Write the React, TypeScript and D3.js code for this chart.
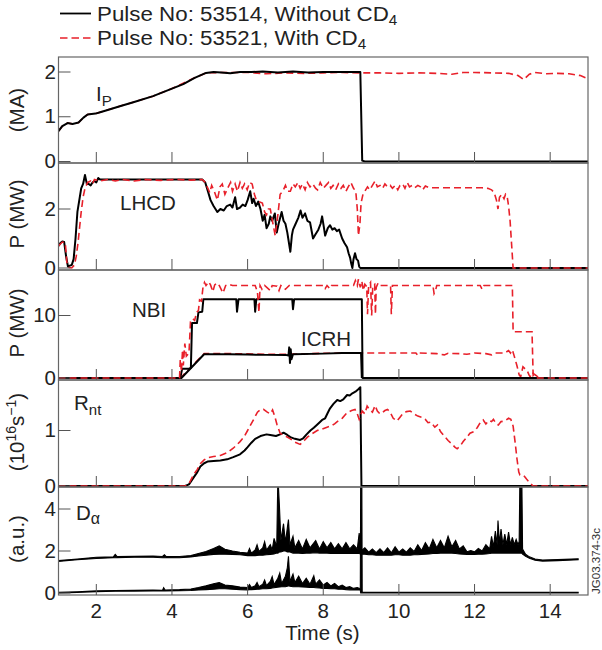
import React from 'react';
import * as d3 from 'd3';

type P = [number, number];
type B = [number, number, number];

const timeTicks = [2, 4, 6, 8, 10, 12, 14];
const legendLabels = ['Pulse No: 53514, Without CD', 'Pulse No: 53521, With CD'];

const ipBlack: P[] = [[1.0,0.68],[1.1,0.79],[1.24,0.86],[1.37,0.84],[1.53,0.87],[1.66,0.98],[1.77,1.05],[1.98,1.07],[2.1,1.1],[2.3,1.15],[2.6,1.23],[3.0,1.33],[3.5,1.46],[4.0,1.63],[4.3,1.73],[4.6,1.87],[4.9,1.98],[5.1,2.0],[5.3,1.99],[5.54,1.97],[5.8,2.0],[6.1,2.0],[6.4,2.01],[6.8,1.99],[7.2,2.01],[7.6,1.99],[8.0,2.0],[8.4,2.0],[8.98,2.0],[9.03,0.02],[9.1,0.0],[15,0.0]];
const ipRed: P[] = [[1.0,0.68],[1.1,0.79],[1.24,0.86],[1.37,0.84],[1.53,0.87],[1.66,0.98],[1.77,1.05],[1.98,1.07],[2.1,1.1],[2.6,1.23],[3.0,1.33],[3.5,1.46],[4.0,1.63],[4.6,1.87],[4.9,1.98],[5.3,1.99],[6.0,1.99],[6.5,1.96],[7.0,1.98],[7.5,1.97],[8.0,1.98],[8.5,1.99],[9.0,1.98],[9.5,1.98],[10.0,1.97],[10.5,1.98],[11.0,1.97],[11.4,1.95],[11.7,1.99],[12.0,1.99],[12.5,1.98],[12.9,1.97],[13.15,1.92],[13.3,1.83],[13.45,1.95],[13.6,1.99],[13.9,1.96],[14.2,1.97],[14.5,1.96],[14.8,1.92],[15,1.85]];

const lhBlack: P[] = [[1.0,0.75],[1.05,0.85],[1.1,0.9],[1.15,0.88],[1.2,0.4],[1.25,0.05],[1.3,0.08],[1.35,0.1],[1.4,0.3],[1.45,1.0],[1.5,1.9],[1.55,2.3],[1.6,2.7],[1.65,2.85],[1.7,3.15],[1.75,2.85],[1.8,2.85],[1.85,2.8],[1.9,2.9],[1.95,2.95],[2.0,2.9],[2.05,3.05],[2.1,3.0],[3.0,3.0],[4.0,3.0],[4.8,3.0],[4.88,2.9],[4.95,2.6],[5.02,2.3],[5.1,2.1],[5.2,1.9],[5.28,2.0],[5.37,1.95],[5.45,2.1],[5.54,2.15],[5.6,2.05],[5.67,2.4],[5.72,2.0],[5.8,2.05],[5.87,2.15],[5.94,2.1],[6.0,2.3],[6.07,2.6],[6.12,2.2],[6.16,2.35],[6.22,2.1],[6.28,2.25],[6.34,2.0],[6.4,1.6],[6.45,1.8],[6.5,1.35],[6.56,1.5],[6.6,1.75],[6.65,1.6],[6.72,1.85],[6.77,1.2],[6.82,1.5],[6.9,1.9],[6.95,1.6],[7.0,1.5],[7.05,1.2],[7.13,0.55],[7.17,1.1],[7.2,1.3],[7.27,1.5],[7.34,1.7],[7.4,1.95],[7.45,1.7],[7.52,1.85],[7.58,1.6],[7.65,1.55],[7.73,1.0],[7.8,1.15],[7.87,1.3],[7.93,1.5],[7.97,1.75],[8.02,1.35],[8.05,1.1],[8.12,1.35],[8.18,1.45],[8.24,1.3],[8.3,1.35],[8.36,1.25],[8.42,1.3],[8.5,1.0],[8.56,0.85],[8.63,0.7],[8.67,0.5],[8.71,0.35],[8.74,0.15],[8.77,0.0],[8.8,0.3],[8.84,0.5],[8.88,0.3],[8.92,0.25],[8.95,0.05],[8.98,0.0],[15,0.0]];
const lhRed: P[] = [[1.0,0.75],[1.1,0.88],[1.18,0.85],[1.22,0.2],[1.27,0.02],[1.35,0.0],[1.42,0.1],[1.47,0.4],[1.52,0.9],[1.56,1.4],[1.6,1.9],[1.65,2.4],[1.7,2.7],[1.77,2.9],[1.85,2.95],[1.9,2.85],[1.95,3.0],[2.1,2.95],[2.3,3.0],[2.5,2.95],[2.7,3.0],[3.0,2.95],[3.3,3.0],[3.7,2.97],[4.1,3.0],[4.5,2.98],[4.8,3.0],[4.88,2.9],[4.95,2.7],[5.0,2.55],[5.05,2.8],[5.12,2.6],[5.2,2.3],[5.27,2.75],[5.33,2.85],[5.4,2.5],[5.49,2.75],[5.55,2.9],[5.6,2.6],[5.67,2.85],[5.73,2.6],[5.8,2.9],[5.86,2.7],[5.92,2.85],[5.99,2.65],[6.05,2.9],[6.12,2.85],[6.18,2.5],[6.23,2.3],[6.3,2.25],[6.39,2.2],[6.45,1.9],[6.5,1.8],[6.55,2.0],[6.6,2.0],[6.67,1.5],[6.73,1.1],[6.8,1.8],[6.86,2.5],[6.93,2.6],[7.0,2.8],[7.06,2.6],[7.13,2.6],[7.2,2.85],[7.26,2.75],[7.33,2.9],[7.39,2.7],[7.45,2.85],[7.52,2.65],[7.58,2.9],[7.65,2.75],[7.72,2.85],[7.8,2.7],[7.85,2.65],[7.92,2.9],[8.0,2.7],[8.07,2.8],[8.14,2.9],[8.2,2.7],[8.26,2.8],[8.33,2.65],[8.4,2.85],[8.47,2.7],[8.53,2.8],[8.6,2.6],[8.66,2.75],[8.73,2.9],[8.8,2.7],[8.86,2.6],[8.9,2.0],[8.93,1.1],[8.97,1.5],[9.0,2.2],[9.05,2.5],[9.1,2.6],[9.17,2.75],[9.23,2.65],[9.3,2.8],[9.37,2.95],[9.43,2.75],[9.5,2.8],[9.57,2.7],[9.63,2.85],[9.7,2.75],[9.77,2.8],[9.83,2.7],[9.9,2.8],[9.97,2.65],[10.03,2.8],[10.1,2.85],[10.16,2.7],[10.22,2.9],[10.28,2.75],[10.35,2.8],[10.42,2.72],[10.5,2.8],[10.57,2.75],[10.63,2.65],[10.7,2.78],[10.8,2.72],[11.0,2.72],[11.4,2.72],[11.8,2.72],[12.2,2.72],[12.35,2.7],[12.45,2.65],[12.52,2.55],[12.58,2.3],[12.62,2.0],[12.66,2.4],[12.72,2.5],[12.78,2.35],[12.82,2.5],[12.86,2.45],[12.9,2.1],[12.94,1.6],[12.98,0.8],[13.02,0.0],[15,0.0]];

const nbiBlack: P[] = [[1.0,0.0],[4.22,0.0],[4.27,1.5],[4.45,1.5],[4.5,1.6],[4.53,8.8],[4.66,8.8],[4.7,10.5],[4.8,10.6],[4.83,12.6],[5.7,12.6],[5.72,10.6],[5.76,12.6],[6.18,12.6],[6.2,10.6],[6.23,12.6],[7.18,12.6],[7.2,11.0],[7.23,12.6],[9.02,12.6],[9.04,0.0],[15,0.0]];
const nbiRed: P[] = [[1.0,0.0],[4.2,0.0],[4.22,3.0],[4.25,1.0],[4.28,4.5],[4.3,2.0],[4.34,5.5],[4.38,3.5],[4.45,4.0],[4.49,9.0],[4.55,9.5],[4.6,9.2],[4.65,10.5],[4.7,10.8],[4.73,12.5],[4.78,12.3],[4.82,14.5],[4.86,15.3],[4.9,14.8],[4.97,15.4],[5.02,14.9],[5.08,13.8],[5.13,14.9],[5.2,15.2],[5.25,14.8],[5.35,13.6],[5.42,14.8],[5.5,15.0],[5.6,14.8],[6.2,14.8],[6.26,13.8],[6.3,10.5],[6.33,14.8],[6.38,14.2],[6.45,14.8],[6.6,14.0],[6.65,14.8],[6.78,14.7],[6.83,14.0],[6.88,14.8],[7.0,14.2],[7.1,14.8],[8.0,14.8],[8.05,14.3],[8.1,14.8],[8.17,14.3],[8.22,14.8],[8.8,14.8],[8.85,15.6],[8.9,14.8],[8.93,15.8],[8.98,14.5],[9.02,15.5],[9.06,14.0],[9.1,15.0],[9.15,14.6],[9.17,10.2],[9.2,14.8],[9.25,15.3],[9.28,10.0],[9.31,14.8],[9.36,15.0],[9.38,10.2],[9.4,14.5],[9.45,15.2],[9.5,14.8],[9.78,14.8],[9.8,10.2],[9.83,14.8],[10.9,14.8],[10.93,13.5],[10.97,14.0],[11.0,14.8],[12.15,14.8],[12.2,14.2],[12.25,14.8],[13.0,14.8],[13.02,7.4],[13.52,7.4],[13.55,0.3],[13.6,0.0],[15,0.0]];
const icBlack: P[] = [[1.0,0.0],[4.25,0.0],[4.85,3.8],[5.5,3.8],[6.0,3.75],[6.5,3.7],[7.0,3.7],[7.08,3.6],[7.1,4.9],[7.12,2.4],[7.14,4.6],[7.16,3.0],[7.2,3.8],[8.0,3.9],[8.5,4.0],[9.0,4.0],[9.02,0.0]];
const icRed: P[] = [[1.0,0.0],[4.22,0.0],[4.85,3.9],[5.5,3.9],[6.5,3.8],[7.0,3.8],[8.0,3.95],[9.0,4.0],[9.5,4.0],[10.0,4.0],[10.45,4.0],[10.5,3.6],[10.55,4.0],[11.0,3.9],[11.2,3.7],[11.3,3.95],[11.6,3.9],[11.8,3.8],[12.0,4.0],[12.3,3.9],[12.45,3.7],[12.55,4.0],[12.8,4.0],[12.9,4.4],[12.95,4.0],[13.0,4.5],[13.05,3.5],[13.12,2.0],[13.18,0.5],[13.22,0.2],[13.28,1.8],[13.33,1.5],[13.39,1.2],[13.44,0.5],[13.47,0.2],[13.52,0.9],[13.58,0.6],[13.65,0.3],[13.73,0.0],[15,0.0]];

const rntBlack: P[] = [[1.0,0.0],[4.35,0.0],[4.45,0.03],[4.57,0.15],[4.67,0.25],[4.75,0.35],[4.85,0.41],[4.94,0.44],[5.1,0.45],[5.28,0.46],[5.46,0.48],[5.62,0.52],[5.8,0.57],[5.92,0.64],[6.0,0.7],[6.1,0.78],[6.2,0.85],[6.34,0.9],[6.5,0.93],[6.6,0.92],[6.75,0.9],[6.86,0.93],[6.95,0.96],[7.05,0.92],[7.13,0.88],[7.25,0.85],[7.39,0.83],[7.47,0.86],[7.56,0.93],[7.66,1.0],[7.75,1.05],[7.83,1.1],[7.97,1.19],[8.05,1.22],[8.12,1.32],[8.18,1.4],[8.27,1.48],[8.37,1.55],[8.45,1.53],[8.53,1.56],[8.63,1.64],[8.7,1.63],[8.77,1.67],[8.85,1.7],[8.92,1.74],[8.98,1.78],[9.01,0.0],[15,0.0]];
const rntRed: P[] = [[1.0,0.0],[4.35,0.0],[4.45,0.04],[4.57,0.2],[4.67,0.3],[4.75,0.4],[4.85,0.47],[4.94,0.51],[5.1,0.53],[5.28,0.55],[5.46,0.6],[5.62,0.68],[5.8,0.8],[5.9,0.88],[6.0,1.0],[6.08,1.1],[6.16,1.2],[6.26,1.33],[6.35,1.38],[6.42,1.38],[6.52,1.33],[6.6,1.3],[6.66,1.37],[6.72,1.25],[6.78,1.1],[6.86,0.95],[6.93,0.92],[7.0,0.9],[7.13,0.85],[7.25,0.79],[7.39,0.75],[7.5,0.82],[7.58,0.88],[7.7,0.94],[7.84,1.0],[7.95,1.02],[8.1,1.06],[8.2,1.08],[8.3,1.12],[8.37,1.16],[8.5,1.22],[8.63,1.32],[8.75,1.36],[8.84,1.38],[8.9,1.3],[8.95,1.2],[9.03,1.35],[9.1,1.3],[9.16,1.44],[9.22,1.38],[9.3,1.33],[9.37,1.45],[9.43,1.35],[9.5,1.3],[9.56,1.32],[9.63,1.36],[9.7,1.38],[9.77,1.33],[9.85,1.22],[9.95,1.17],[10.03,1.24],[10.1,1.3],[10.2,1.34],[10.3,1.35],[10.4,1.3],[10.5,1.26],[10.6,1.24],[10.7,1.2],[10.77,1.14],[10.85,1.15],[10.95,1.06],[11.02,1.1],[11.1,0.98],[11.2,0.9],[11.3,0.82],[11.4,0.76],[11.48,0.7],[11.54,0.67],[11.62,0.72],[11.7,0.8],[11.8,0.88],[11.88,0.95],[11.98,0.98],[12.07,1.05],[12.15,1.14],[12.23,1.19],[12.3,1.12],[12.38,1.18],[12.45,1.16],[12.5,1.2],[12.57,1.12],[12.63,1.1],[12.7,1.16],[12.8,1.17],[12.9,1.22],[12.96,1.2],[13.02,1.08],[13.08,0.75],[13.12,0.5],[13.17,0.25],[13.2,0.2],[13.3,0.19],[13.38,0.12],[13.47,0.05],[13.55,0.0],[15,0.0]];

// D-alpha traces: [time, low, high] envelopes of the noisy signal
const daUpper: B[] = [[1.0,1.50,1.55],[1.5,1.58,1.62],[2.0,1.64,1.70],[2.45,1.68,1.72],[2.5,1.68,1.84],[2.55,1.68,1.73],[3.0,1.70,1.75],[3.5,1.70,1.76],[3.75,1.68,1.74],[3.8,1.68,1.82],[3.85,1.68,1.73],[4.2,1.68,1.74],[4.5,1.72,1.78],[4.7,1.76,1.88],[4.9,1.8,1.98],[5.1,1.84,2.12],[5.25,1.85,2.24],[5.4,1.85,2.08],[5.6,1.84,2.0],[5.8,1.82,1.94],[6.0,1.78,1.9],[6.05,1.78,2.12],[6.1,1.78,1.9],[6.2,1.78,2.05],[6.25,1.79,2.3],[6.3,1.8,1.98],[6.4,1.8,2.15],[6.45,1.81,2.45],[6.5,1.82,2.05],[6.6,1.84,2.3],[6.65,1.85,2.05],[6.7,1.86,2.6],[6.77,1.9,2.2],[6.8,1.9,5.6],[6.84,1.95,4.2],[6.88,1.95,2.5],[6.95,2.0,3.3],[7.0,2.0,2.4],[7.05,1.95,3.1],[7.08,1.95,3.5],[7.12,1.95,2.3],[7.2,1.9,2.7],[7.25,1.9,2.15],[7.35,1.9,2.5],[7.45,1.88,2.1],[7.55,1.9,2.55],[7.65,1.9,2.15],[7.8,1.92,2.5],[7.9,1.9,2.1],[8.0,1.9,2.45],[8.1,1.9,2.15],[8.2,1.88,2.4],[8.3,1.88,2.1],[8.4,1.88,2.35],[8.5,1.88,2.1],[8.6,1.9,2.4],[8.7,1.88,2.1],[8.8,1.88,2.3],[8.9,1.88,2.1],[8.95,1.88,2.85],[9.0,1.85,2.0],[9.1,1.85,2.15],[9.2,1.82,1.95],[9.3,1.82,2.1],[9.4,1.8,1.92],[9.5,1.8,2.1],[9.6,1.8,1.92],[9.7,1.8,2.15],[9.8,1.8,1.92],[9.9,1.82,2.2],[10.0,1.82,1.95],[10.1,1.8,2.1],[10.2,1.8,1.95],[10.3,1.8,2.15],[10.4,1.82,1.98],[10.5,1.82,2.3],[10.6,1.84,2.02],[10.7,1.85,2.4],[10.8,1.86,2.1],[10.9,1.88,2.55],[11.0,1.88,2.15],[11.1,1.9,2.5],[11.2,1.9,2.15],[11.3,1.9,2.7],[11.4,1.9,2.2],[11.5,1.88,2.5],[11.6,1.86,2.1],[11.7,1.85,2.25],[11.8,1.84,1.96],[11.9,1.84,2.02],[12.0,1.84,1.96],[12.1,1.85,2.12],[12.2,1.85,2.0],[12.3,1.86,2.3],[12.4,1.88,2.1],[12.45,1.9,2.7],[12.5,1.9,2.2],[12.55,1.9,2.95],[12.6,1.9,2.3],[12.62,1.9,3.45],[12.66,1.9,2.35],[12.7,1.9,3.05],[12.75,1.9,2.3],[12.8,1.9,2.8],[12.85,1.9,2.3],[12.9,1.9,2.9],[12.95,1.9,2.3],[13.0,1.9,2.65],[13.05,1.9,2.3],[13.1,1.9,2.55],[13.15,1.9,2.3],[13.18,1.9,2.45],[13.2,1.9,5.6],[13.25,1.9,5.6],[13.27,1.85,2.1],[13.35,1.75,1.85],[13.45,1.65,1.72],[13.6,1.56,1.62],[13.8,1.52,1.57],[14.2,1.54,1.59],[14.74,1.58,1.63]];
const daLower: B[] = [[1.0,0.0,0.03],[1.5,0.03,0.06],[2.0,0.06,0.1],[2.5,0.08,0.12],[3.0,0.09,0.13],[3.5,0.1,0.14],[3.75,0.1,0.13],[3.78,0.1,0.25],[3.82,0.1,0.14],[4.2,0.11,0.16],[4.5,0.12,0.19],[4.7,0.14,0.26],[4.9,0.16,0.34],[5.1,0.18,0.44],[5.25,0.2,0.5],[5.4,0.2,0.38],[5.6,0.18,0.34],[5.8,0.16,0.28],[6.0,0.15,0.26],[6.05,0.16,0.4],[6.1,0.16,0.26],[6.2,0.17,0.34],[6.25,0.18,0.5],[6.3,0.18,0.3],[6.4,0.2,0.42],[6.45,0.2,0.62],[6.5,0.2,0.35],[6.6,0.22,0.55],[6.65,0.24,0.78],[6.7,0.25,0.4],[6.8,0.28,0.7],[6.85,0.29,0.95],[6.9,0.3,0.45],[7.0,0.3,0.8],[7.05,0.32,1.2],[7.08,0.35,1.75],[7.12,0.32,0.55],[7.2,0.3,0.9],[7.25,0.3,0.5],[7.35,0.3,0.8],[7.45,0.29,0.45],[7.55,0.28,0.7],[7.65,0.26,0.42],[7.75,0.26,0.82],[7.8,0.25,0.42],[7.9,0.24,0.62],[8.0,0.22,0.38],[8.1,0.22,0.5],[8.2,0.2,0.34],[8.3,0.2,0.46],[8.4,0.18,0.3],[8.5,0.18,0.38],[8.6,0.16,0.26],[8.7,0.15,0.3],[8.8,0.14,0.22],[8.9,0.14,0.26],[8.98,0.14,0.2],[8.99,0.0,5.6],[9.02,0.0,5.6],[9.03,0.0,0.03],[14.74,0.0,0.03]];

const ipTicks = [0, 1, 2];
const lhTicks = [0, 2];
const nbiTicks = [0, 10];
const rntTicks = [0, 1];
const daTicks = [0, 2, 4];

const FONT = '"Liberation Sans", Arial, Helvetica, sans-serif';
const RED = '#e8202a';
const FS = 20.5;
const X0 = 58.5, X1 = 588;
const xs = d3.scaleLinear().domain([1, 15]).range([X0, X1]);

const panels = [
  { top: 57, bottom: 163, y: d3.scaleLinear().domain([0, 2]).range([161.5, 72]), ticks: ipTicks },
  { top: 163, bottom: 270, y: d3.scaleLinear().domain([0, 2]).range([268, 209]), ticks: lhTicks },
  { top: 270, bottom: 380, y: d3.scaleLinear().domain([0, 10]).range([378, 315.5]), ticks: nbiTicks },
  { top: 380, bottom: 487, y: d3.scaleLinear().domain([0, 1]).range([486, 430.5]), ticks: rntTicks },
  { top: 487, bottom: 595, y: d3.scaleLinear().domain([0, 4]).range([593, 509]), ticks: daTicks },
];

function linePath(data: P[], y: d3.ScaleLinear<number, number>) {
  return d3.line<P>().x(d => xs(d[0])).y(d => y(d[1]))(data) || '';
}
function bandPath(data: B[], y: d3.ScaleLinear<number, number>) {
  return d3.area<B>().x(d => xs(d[0])).y0(d => y(d[1])).y1(d => y(d[2]))(data) || '';
}

const Black = ({ d }: { d: string }) => (
  <path d={d} fill="none" stroke="#000" strokeWidth={2} strokeLinejoin="round" />
);
const Red = ({ d }: { d: string }) => (
  <path d={d} fill="none" stroke={RED} strokeWidth={1.6} strokeDasharray="7,4" />
);

export default function App() {
  const [p1, p2, p3, p4, p5] = panels;
  return (
    <svg width={602} height={650} style={{ display: 'block', position: 'absolute', left: 0, top: 0 }} fontFamily={FONT}>
      <rect x={0} y={0} width={602} height={650} fill="#fff" />
      <defs>
        {panels.map((p, i) => (
          <clipPath id={`clip${i}`} key={i}>
            <rect x={X0} y={p.top} width={X1 - X0} height={p.bottom - p.top} />
          </clipPath>
        ))}
      </defs>

      {/* Legend */}
      <line x1={60} x2={91} y1={13.5} y2={13.5} stroke="#000" strokeWidth={1.8} />
      <text transform="translate(97,20.5) scale(1.09,1)" fontSize={FS} fill="#222">{legendLabels[0]}<tspan fontSize={14} dy={4}>4</tspan></text>
      <line x1={60} x2={91} y1={38} y2={38} stroke={RED} strokeWidth={1.6} strokeDasharray="7.5,4" />
      <text transform="translate(97,45) scale(1.09,1)" fontSize={FS} fill="#222">{legendLabels[1]}<tspan fontSize={14} dy={4}>4</tspan></text>

      {/* Data */}
      <g clipPath="url(#clip0)">
        <Red d={linePath(ipRed, p1.y)} />
        <Black d={linePath(ipBlack, p1.y)} />
      </g>
      <g clipPath="url(#clip1)">
        <Black d={linePath(lhBlack, p2.y)} />
        <Red d={linePath(lhRed, p2.y)} />
      </g>
      <g clipPath="url(#clip2)">
        <Red d={linePath(icRed, p3.y)} />
        <Black d={linePath(nbiBlack, p3.y)} />
        <Black d={linePath(icBlack, p3.y)} />
        <Red d={linePath(nbiRed, p3.y)} />
      </g>
      <g clipPath="url(#clip3)">
        <Black d={linePath(rntBlack, p4.y)} />
        <Red d={linePath(rntRed, p4.y)} />
      </g>
      <g clipPath="url(#clip4)">
        <path d={bandPath(daUpper, p5.y)} fill="#000" stroke="#000" strokeWidth={1.1} strokeLinejoin="miter" />
        <path d={bandPath(daLower, p5.y)} fill="#000" stroke="#000" strokeWidth={1.1} strokeLinejoin="miter" />
      </g>

      {/* Frames and ticks */}
      {panels.map((p, i) => (
        <g key={i}>
          <rect x={X0} y={p.top} width={X1 - X0} height={p.bottom - p.top} fill="none" stroke="#666" strokeWidth={1.2} />
          {timeTicks.map(t => (
            <line key={t} x1={xs(t)} x2={xs(t)} y1={p.bottom} y2={p.bottom - 11} stroke="#555" strokeWidth={1} />
          ))}
          {p.ticks.map(v => (
            <g key={v}>
              <line x1={X0} x2={X0 + 12} y1={p.y(v)} y2={p.y(v)} stroke="#555" strokeWidth={1} />
              <text x={56} y={p.y(v) + 6.5} fontSize={FS} textAnchor="end" fill="#222">{v}</text>
            </g>
          ))}
        </g>
      ))}

      {/* x tick labels */}
      {timeTicks.map(t => (
        <text key={t} x={xs(t)} y={618} fontSize={FS} textAnchor="middle" fill="#222">{t}</text>
      ))}
      <text x={322.5} y={640} fontSize={FS} textAnchor="middle" fill="#222">Time (s)</text>

      {/* y labels */}
      <text transform="translate(24,110) rotate(-90)" fontSize={FS} textAnchor="middle" fill="#222">(MA)</text>
      <text transform="translate(24,214) rotate(-90)" fontSize={FS} textAnchor="middle" fill="#222">P (MW)</text>
      <text transform="translate(24,323) rotate(-90)" fontSize={FS} textAnchor="middle" fill="#222">P (MW)</text>
      <text transform="translate(24,432) rotate(-90)" fontSize={FS} textAnchor="middle" fill="#222">(10<tspan fontSize={14} dy={-8}>16</tspan><tspan dy={8}>s</tspan><tspan fontSize={14} dy={-8}>−1</tspan><tspan dy={8}>)</tspan></text>
      <text transform="translate(24,539) rotate(-90)" fontSize={FS} textAnchor="middle" fill="#222">(a.u.)</text>

      {/* panel labels */}
      <text x={96} y={100.5} fontSize={FS} fill="#222">I<tspan fontSize={15} dy={5}>P</tspan></text>
      <text x={120} y={210} fontSize={FS} fill="#222">LHCD</text>
      <text x={132} y={317} fontSize={FS} fill="#222">NBI</text>
      <text x={301} y={346} fontSize={FS} fill="#222">ICRH</text>
      <text x={74} y={410} fontSize={FS} fill="#222">R<tspan fontSize={15} dy={5}>nt</tspan></text>
      <text x={76} y={520} fontSize={FS} fill="#222">D<tspan fontSize={16} dy={4}>α</tspan></text>

      <text transform="translate(600,561) rotate(-90)" fontSize={11.5} textAnchor="middle" fill="#333">JG03.374-3c</text>
    </svg>
  );
}
